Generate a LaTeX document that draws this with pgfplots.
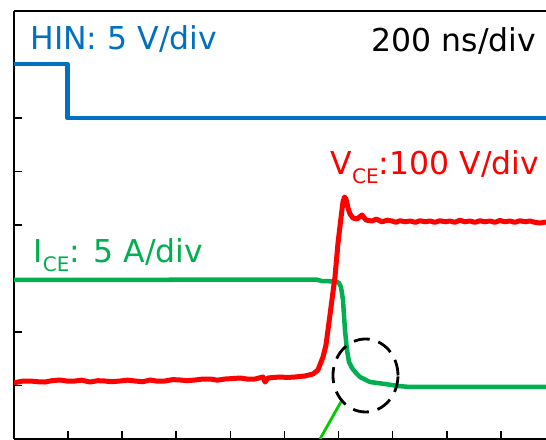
\documentclass[border=0pt]{standalone}
\usepackage{pgfplots}
\pgfplotsset{compat=1.18}
\usepackage{fontspec}
\setmainfont{DejaVu Sans}
\definecolor{hinblue}{HTML}{0070C0}
\definecolor{vcered}{HTML}{FF0000}
\definecolor{icegreen}{HTML}{00B050}
\definecolor{ptrgreen}{HTML}{00CC00}
\newcommand{\sub}[1]{\raisebox{-9bp}{\fontsize{20bp}{22bp}\selectfont #1}}
\begin{document}
\begin{tikzpicture}
\begin{axis}[
  scale only axis, width=532bp, height=428bp,
  xmin=0, xmax=9.834, ymin=0, ymax=8,
  axis x line*=box, axis y line*=left,
  xtick={1,2,3,4,5,6,7,8,9}, ytick={1,2,3,4,5,6,7},
  xticklabels={}, yticklabels={},
  xtick pos=lower, ytick pos=left,
  tick align=inside,
  major tick length=8bp,
  every tick/.style={black, line width=1.6bp},
  axis line style={black, line width=1.8bp},
  clip=true,
]
\coordinate (sw) at (axis cs:0,0);
% HIN
\addplot[hinblue, line width=4.5bp, line join=round] coordinates {
(0,7.01) (0.99,7.01) (0.99,6.0) (9.9,6.0)};
% ICE
\addplot[icegreen, line width=4.5bp, line join=round] coordinates {
(0,2.972) (5.582,2.981) (5.693,2.953) (5.952,2.944) (6.007,2.916)
(6.044,2.841) (6.081,2.598) (6.118,2.037) (6.155,1.664) (6.192,1.439)
(6.248,1.327) (6.322,1.234) (6.396,1.159) (6.580,1.065) (6.858,1.028)
(7.098,0.991) (7.320,0.972) (9.9,0.972)};
% VCE
\addplot[vcered, line width=5bp, line join=round] coordinates {
(0,1.05) (0.15,1.08) (0.296,1.084) (0.45,1.07) (0.573,1.065) (0.7,1.09) (0.850,1.103)
(1.0,1.08) (1.128,1.084) (1.25,1.10) (1.405,1.065) (1.55,1.09) (1.682,1.084)
(1.8,1.07) (1.959,1.084) (2.1,1.10) (2.237,1.084) (2.38,1.07) (2.514,1.103)
(2.65,1.08) (2.791,1.084) (2.93,1.11) (3.068,1.103) (3.2,1.09) (3.346,1.103)
(3.48,1.12) (3.623,1.121) (3.76,1.10) (3.900,1.121) (4.04,1.13) (4.177,1.140)
(4.32,1.12) (4.455,1.121) (4.603,1.159) (4.640,1.065) (4.695,1.140)
(4.80,1.15) (4.917,1.159) (5.05,1.15) (5.194,1.159) (5.379,1.178)
(5.527,1.215) (5.619,1.290) (5.712,1.533) (5.767,1.757) (5.804,2.037)
(5.860,2.467) (5.933,3.028) (5.989,3.664) (6.044,4.131) (6.081,4.430)
(6.109,4.523) (6.137,4.486) (6.174,4.318) (6.211,4.206) (6.266,4.131)
(6.340,4.112) (6.433,4.187) (6.506,4.093) (6.617,4.075) (6.70,4.11)
(6.80,4.06) (6.90,4.09) (6.987,4.075) (7.06,4.05) (7.135,4.080)
(7.23,4.06) (7.320,4.075) (7.42,4.05) (7.505,4.080) (7.60,4.06)
(7.689,4.075) (7.78,4.05) (7.874,4.080) (7.97,4.06) (8.059,4.075)
(8.15,4.05) (8.244,4.090) (8.33,4.06) (8.429,4.075) (8.52,4.05)
(8.614,4.080) (8.70,4.06) (8.799,4.075) (8.89,4.05) (8.983,4.085)
(9.07,4.06) (9.168,4.075) (9.26,4.05) (9.353,4.080) (9.45,4.06)
(9.538,4.075) (9.63,4.05) (9.723,4.037) (9.834,4.056)};
% pointer
\addplot[ptrgreen, line width=2.8bp] coordinates {(5.656,0) (6.063,0.729)};
% circle annotation
\draw[black, line width=2.8bp, dash pattern=on 16bp off 9bp]
  (axis cs:6.497,1.187) ellipse [x radius=32.5bp, y radius=36.5bp];
% labels
\node[anchor=base west, inner sep=0, text=hinblue, font=\fontsize{31.5bp}{36bp}\selectfont]
  at (axis cs:0.30,7.271) {HIN: 5 V/div};
\node[anchor=base east, inner sep=0, text=black, font=\fontsize{31.5bp}{36bp}\selectfont]
  at (axis cs:9.66,7.234) {200 ns/div};
\node[anchor=base east, inner sep=0, text=vcered, font=\fontsize{31.5bp}{36bp}\selectfont]
  at (axis cs:9.71,4.935) {V\sub{CE}:100 V/div};
\node[anchor=base west, inner sep=0, text=icegreen, font=\fontsize{31.5bp}{36bp}\selectfont]
  at (axis cs:0.36,3.290) {I\sub{CE}: 5 A/div};
\end{axis}
\pgfresetboundingbox
\path (sw) ++(-14bp,-1bp) rectangle ++(546bp,440bp);
\end{tikzpicture}
\end{document}
